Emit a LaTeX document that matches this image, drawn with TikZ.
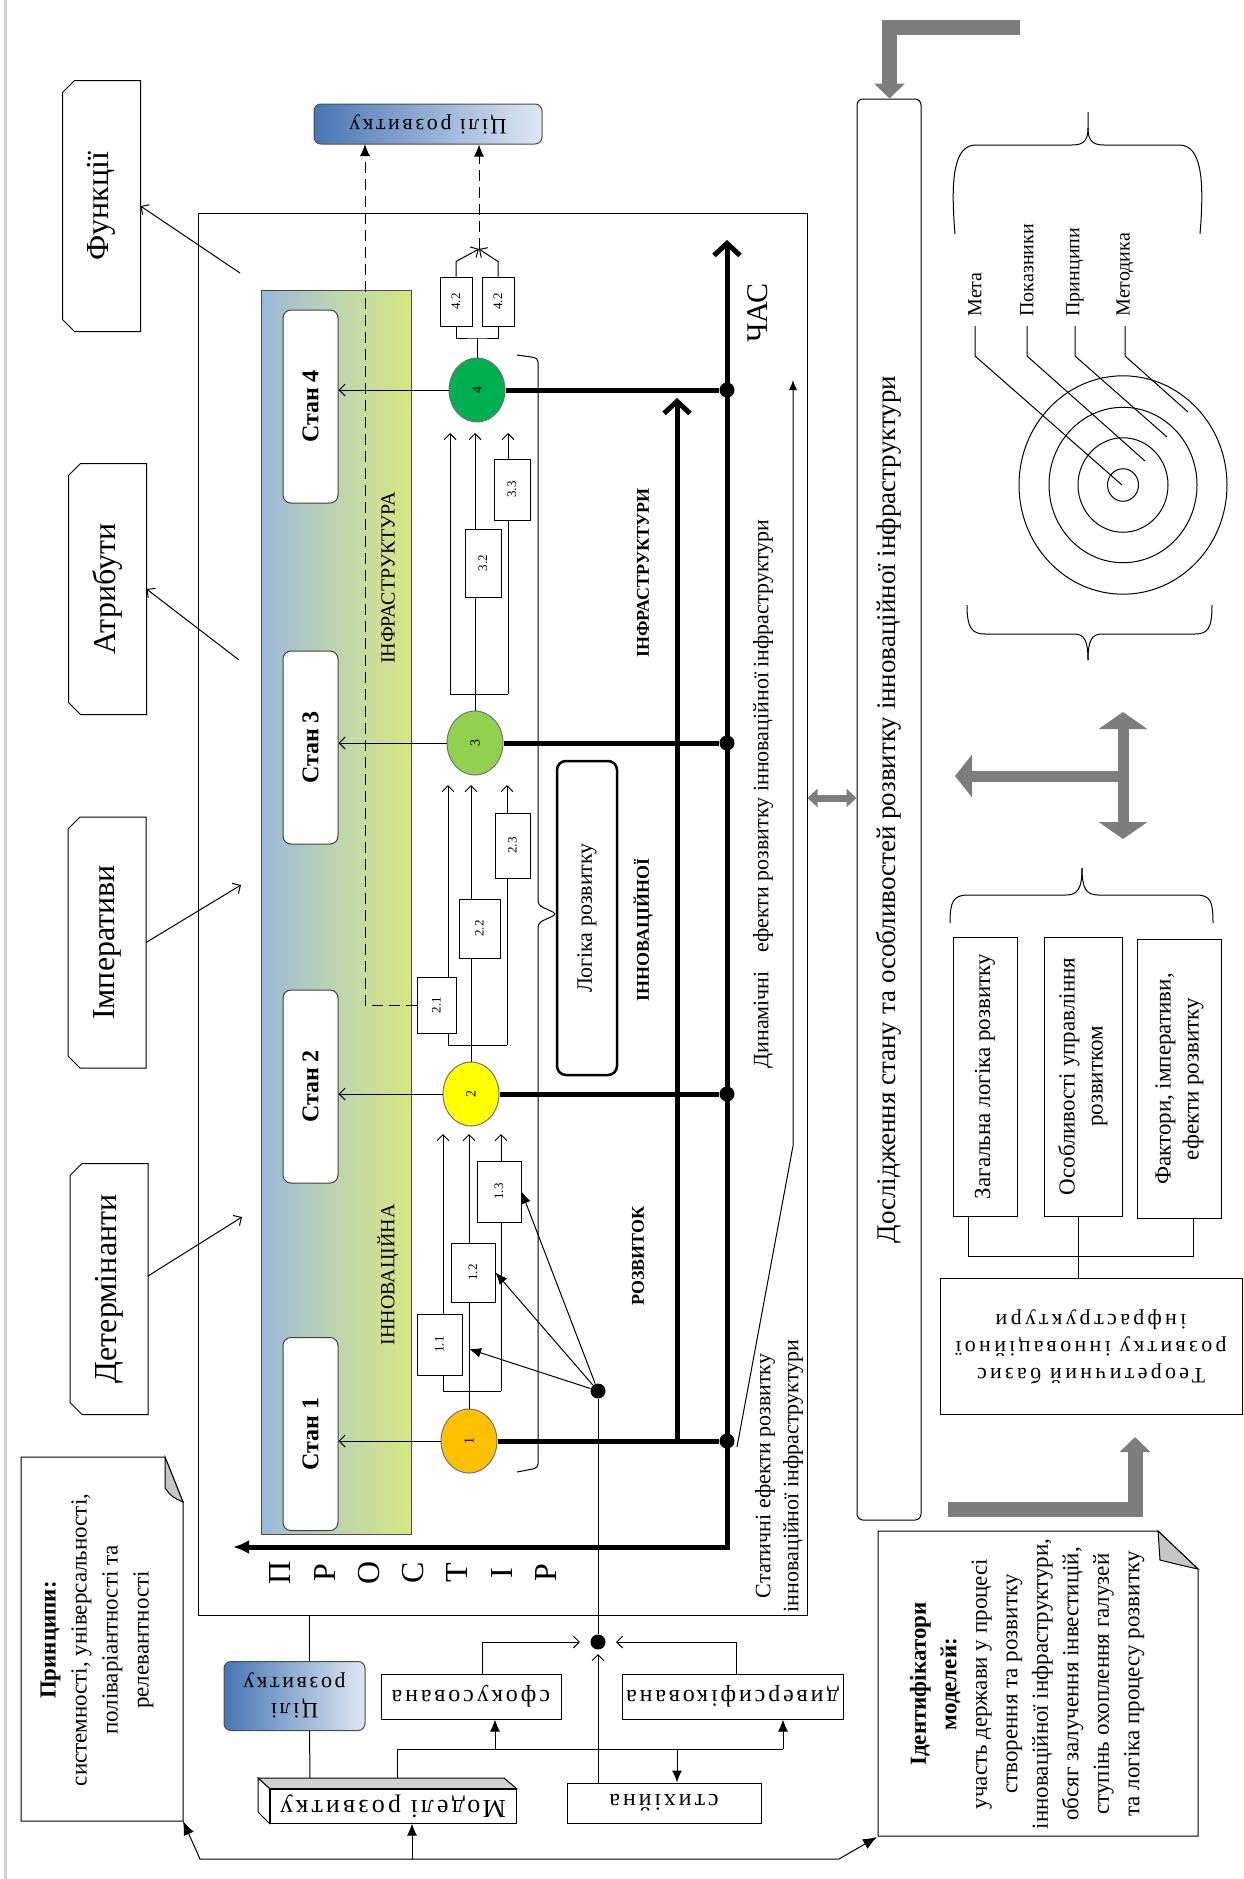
\documentclass[tikz,border=0pt]{standalone}
\usepackage{fontspec}
\setmainfont{Liberation Serif}
\newfontfamily\spc[LetterSpace=12]{Liberation Serif}
\newfontfamily\spct[LetterSpace=15]{Liberation Serif}
\usepackage{graphicx}
\usetikzlibrary{arrows.meta,shapes.geometric}
\definecolor{bandblue}{RGB}{155,184,220}
\definecolor{bandmid}{RGB}{190,213,175}
\definecolor{bandyel}{RGB}{214,230,130}
\definecolor{cilblue}{RGB}{72,118,180}
\definecolor{cillight}{RGB}{222,231,243}
\definecolor{orng}{RGB}{255,192,0}
\definecolor{ylw}{RGB}{255,255,0}
\definecolor{lgrn}{RGB}{146,208,80}
\definecolor{dgrn}{RGB}{0,176,80}
\definecolor{garr}{RGB}{125,125,125}
\newcommand{\vup}[1]{\rotatebox{90}{#1}}
\newcommand{\vdn}[1]{\rotatebox{180}{#1}}
\newcommand{\lines}[1]{\begin{tabular}{@{}c@{}}#1\end{tabular}}
\tikzstyle{side}=[inner sep=0pt, minimum width=77pt, minimum height=250pt, font=\fontsize{32}{36}\selectfont]
\tikzstyle{stan}=[draw=black!75, fill=white, rounded corners=8pt, minimum width=55pt, minimum height=193pt, inner sep=0pt, font=\fontsize{24}{28}\selectfont\bfseries]
\tikzstyle{crc}=[draw=black!55, ellipse, minimum width=56pt, minimum height=64pt, inner sep=0pt, font=\fontsize{14}{16}\selectfont]
\tikzstyle{nb}=[draw, fill=white, inner sep=0pt, font=\fontsize{13}{15}\selectfont]
\tikzstyle{dot}=[circle, fill, inner sep=0pt, minimum size=15pt]
\tikzstyle{thk}=[line width=5pt]
\tikzstyle{dsh}=[dash pattern=on 11pt off 6pt, -{Latex[length=12pt,width=10pt]}]
\tikzstyle{filltip}=[-{Latex[length=12pt,width=10pt]}]
\tikzstyle{cil}=[draw=black!70, rounded corners=7pt, left color=cilblue, right color=cillight, inner sep=0pt, font=\fontsize{22}{26}\selectfont\spc]
\tikzstyle{pbox}=[draw, fill=white, inner sep=0pt, font=\fontsize{24}{28}\selectfont\spc]
\tikzstyle{rbox}=[draw, fill=white, inner sep=0pt, minimum height=279pt, font=\fontsize{23}{28}\selectfont]
\tikzstyle{garrow}=[draw=garr, line width=15pt, line join=miter, -{Triangle[length=15pt,width=30pt]}]
\tikzstyle{gshaft}=[draw=garr, line width=11pt]
\tikzstyle{vlbl}=[rotate=90, inner sep=1pt]

\begin{document}
\begin{tikzpicture}[x=1pt,y=-1pt,line width=1pt,>={Straight Barb[length=6pt,width=12pt]}]
\useasboundingbox (0,0) rectangle (1243,1879);
\draw[gray!35, line width=3pt] (5,0) -- (5,1879);

% left column
\node[side] (fun) at (101.5,206) {\vup{Функції}};
\node[side] (atr) at (107.5,589) {\vup{Атрибути}};
\node[side] (imp) at (107,942.5) {\vup{Імперативи}};
\node[side] (det) at (109,1289) {\vup{Детермінанти}};
\foreach \n in {fun,atr,imp,det}
  \draw ([xshift=12pt]\n.north west) -- (\n.north east) -- (\n.south east) -- ([xshift=12pt]\n.south west) -- ([yshift=12pt]\n.south west) -- ([yshift=-12pt]\n.north west) -- cycle;

\draw[fill=white] (21,1457) -- (165,1457) -- (183,1502) -- (183,1821) -- (21,1821) -- cycle;
\draw[fill=gray!45] (165,1457) -- (183,1502) .. controls (172,1497) .. (165,1488) -- cycle;
\node[vlbl, align=center, font=\fontsize{23}{31}\selectfont] (prin) at (97,1640) {\textbf{Принципи:}\\системності, універсальності,\\поліваріантності та\\релевантності};

% main frame
\node[draw, minimum width=609pt, minimum height=1402pt, inner sep=0pt] (frame) at (502.5,914) {};
\node[draw=black!70, left color=bandblue, right color=bandyel, middle color=bandmid, minimum width=150pt, minimum height=1244pt, inner sep=0pt] (band) at (336,912) {};
\node[vlbl, font=\fontsize{20}{24}\selectfont] (binfr) at (388,578) {ІНФРАСТРУКТУРА};
\node[vlbl, font=\fontsize{20}{24}\selectfont] (binn) at (388,1275) {ІННОВАЦІЙНА};

\coordinate (fa) at (240,273);
\coordinate (aa) at (239,660);
\coordinate (ia) at (241,885);
\coordinate (da0) at (242,1217);
\draw[->] (fa) -- (fun.east);
\draw[->] (aa) -- (atr.east);
\draw[->] (imp.east) -- (ia);
\draw[->] ([yshift=13pt]det.east) -- (da0);

\foreach \i/\y in {4/406.5,3/747.5,2/1086.5,1/1434}
  \node[stan] (st\i) at (310.5,\y) {\vup{Стан \i}};

% time and space axes
\coordinate (org) at (727,1547);
\coordinate (tend) at (727,240);
\coordinate (send) at (233,1547);
\draw[thk, {Latex[length=16pt,width=14pt]}-{Straight Barb[length=12pt,width=26pt]}] (send) -- (org) -- (tend);
\coordinate (j1) at (677,1441);
\coordinate (j4) at (677,398);
\draw[thk, -{Straight Barb[length=12pt,width=26pt]}] (j1) -- (j4);
\node[vlbl, font=\fontsize{30}{34}\selectfont] (chas) at (758,313) {ЧАС};
\foreach \l [count=\i] in {П,Р,О,С,Т,І,Р}
  \node[vlbl, font=\fontsize{32}{36}\selectfont] (pr\i) at (236+44.3*\i,1573) {\l};

% states
\node[crc, fill=dgrn] (c4) at (477,390) {\vup{4}};
\node[crc, fill=lgrn] (c3) at (475,743) {\vup{3}};
\node[crc, fill=ylw] (c2) at (471,1094) {\vup{2}};
\node[crc, fill=orng] (c1) at (469,1441) {\vup{1}};
\foreach \i in {1,...,4}
  \draw[->] (c\i.west) -- (c\i.west -| st\i.east);
\foreach \i/\y in {1/1441,2/1094,3/743,4/390}
  \node[dot] (d\i) at (727,\y) {};
\foreach \i in {1,...,4}
  \draw[thk] (c\i) -- (d\i);

\foreach \k/\y/\l/\r/\t in {1/1391/443/501/1134, 2/1045/448/507/785, 3/694/450/508/433}{
  \coordinate (bl\k) at (\l,\y);
  \coordinate (br\k) at (\r,\y);
  \coordinate (tl\k) at (\l,\t);
  \coordinate (tr\k) at (\r,\t);
  \draw (bl\k) -- (br\k);
  \draw[->] (bl\k) -- (tl\k);
  \draw[->] (br\k) -- (tr\k);
  \draw[->] (c\k.north) -- (c\k.north |- tl\k);
}
\foreach \n/\t/\x/\y/\w/\h in {11/1.1/439.5/1344.5/45/61, 12/1.2/473/1272.5/44/59, 13/1.3/499/1191.5/44/61,
    21/2.1/436.5/1005/39/56, 22/2.2/479.5/928.5/41/59, 23/2.3/512.5/845.5/35/65,
    32/3.2/483/563/36/68, 33/3.3/512/489.5/36/61}
  \node[nb, minimum width=\w pt, minimum height=\h pt] (b\n) at (\x,\y) {\vup{\t}};
\node[nb, minimum width=32pt, minimum height=49pt] (b42a) at (456,301.5) {\vup{4.2}};
\node[nb, minimum width=32pt, minimum height=49pt] (b42b) at (498,301.5) {\vup{4.2}};
\coordinate (j42) at (477,338);
\draw (c4.north) -- (j42);
\draw (b42a.south) |- (j42) -| (b42b.south);
\coordinate (m42) at (479,249);
\draw[->] (b42a.north) -- ++(0,-15) -- (m42);
\draw[->] (b42b.north) -- ++(0,-15) -- (m42);

\node[cil, minimum width=228pt, minimum height=40pt] (cil1) at (428,124) {\vdn{Цілі розвитку}};
\draw[dsh] (m42) -- (m42 |- cil1.south);
\coordinate (dtop) at (365,144);
\draw[dsh] (b21.west) -| (dtop);

% logic bracket
\draw[rounded corners=4pt] (517,355) -- (538,358) -- (538,905) -- (557,914) -- (538,923) -- (538,1468) -- (517,1472);
\node[draw, line width=2.5pt, rounded corners=9pt, minimum width=60pt, minimum height=314pt, inner sep=0pt, font=\fontsize{22}{26}\selectfont] (logic) at (587,918) {\vup{Логіка розвитку}};
\node[vlbl, font=\fontsize{18}{22}\selectfont\bfseries] (linfr) at (643,573) {ІНФРАСТРУКТУРИ};
\node[vlbl, font=\fontsize{18}{22}\selectfont\bfseries] (linn) at (643,930) {ІННОВАЦІЙНОЇ};
\node[vlbl, font=\fontsize{18}{22}\selectfont\bfseries] (lroz) at (638,1256) {РОЗВИТОК};

% effects
\coordinate (dy0) at (737,1447);
\coordinate (dy1) at (793,1146);
\coordinate (dy2) at (793,380);
\draw[-{Latex[length=10pt,width=8pt]}] (dy0) -- (dy1) -- (dy2);
\node[vlbl, font=\fontsize{22}{26}\selectfont] (dyn) at (763,794) {Динамічні\hspace{0.6em} ефекти розвитку інноваційної інфраструктури};
\node[vlbl, align=center, font=\fontsize{22}{28}\selectfont] (stat) at (779,1476) {Статичні ефекти розвитку\\інноваційної інфраструктури};

% model selection
\node[dot] (da) at (598,1391) {};
\node[dot] (db) at (598,1642) {};
\draw (db) -- (da);
\coordinate (pm) at (469,1349);
\draw[filltip] (da) -- (b13.east);
\draw[filltip] (da) -- (b12.east);
\draw[filltip] (da) -- (pm);

\node[cil, minimum width=141pt, minimum height=69pt] (cil2) at (294.5,1696) {\vdn{\lines{Цілі\\розвитку}}};
\draw ([xshift=15pt]cil2.north) -- ([xshift=15pt]cil2.north |- frame.south);
\coordinate (mt0) at (310,1778);
\draw ([xshift=15pt]cil2.south) -- (mt0);

\node[draw, fill=white, minimum width=246pt, minimum height=34pt, inner sep=0pt, font=\fontsize{26}{30}\selectfont\spc] (model) at (393,1806) {\vdn{Моделі розвитку}};
\draw[fill=gray!35] (258,1778) -- (504,1778) -- (model.north east) -- (model.north west) -- cycle;
\draw[fill=white] (258,1778) -- (model.north west) -- (model.south west) -- (258,1812) -- cycle;

\node[pbox, minimum width=180pt, minimum height=45pt] (sfok) at (471,1696.5) {\vdn{сфокусована}};
\node[pbox, minimum width=221pt, minimum height=45pt] (diver) at (732.5,1696.5) {\vdn{диверсифікована}};
\node[pbox, minimum width=194pt, minimum height=40pt] (stykh) at (664,1803) {\vdn{стихійна}};

\coordinate (mt) at (397,1778);
\coordinate (mj) at (397,1749);
\coordinate (mr) at (783,1749);
\coordinate (ms) at (495,1749);
\coordinate (mk) at (677,1749);
\draw (mt) -- (mj) -- (mr);
\draw[filltip] (mr) -- (mr |- diver.south);
\draw[filltip] (ms) -- (ms |- sfok.south);
\draw[filltip] (mk) -- (mk |- stykh.north);
\draw[->, shorten >=10pt] ([xshift=11pt]sfok.north) |- (db);
\draw[->, shorten >=10pt] ([xshift=3.5pt]diver.north) |- (db);
\draw[->, shorten >=4pt] (stykh.north -| db) -- (db);

\coordinate (bl) at (200,1859);
\coordinate (br) at (839,1859);
\coordinate (bm) at (412,1859);
\coordinate (pc) at (183,1821);
\coordinate (ic) at (877,1837);
\draw[{Latex[length=14pt,width=11pt]}-{Latex[length=14pt,width=11pt]}] (pc) -- (bl) -- (br) -- (ic);
\draw[filltip] (bm) -- (bm |- model.south);

% right column
\node[draw, rounded corners=6pt, minimum width=64pt, minimum height=1421pt, inner sep=0pt, font=\fontsize{27}{31}\selectfont] (dosl) at (889,809.5) {\vup{Дослідження стану та особливостей розвитку інноваційної інфраструктури}};
\coordinate (dd) at (0,798);
\draw[draw=garr, line width=7pt, {Triangle[length=10pt,width=18pt]}-{Triangle[length=10pt,width=18pt]}] (frame.east |- dd) -- (dosl.west |- dd);
\coordinate (ga1) at (1020,27);
\draw[garrow] (ga1) -| ([xshift=33pt]dosl.north west);

\draw (955,234) .. controls (950,175) and (955,146) .. (975,145) -- (1072,145) .. controls (1084,145) and (1088,140) .. (1088,128) -- (1088,112);
\draw (1088,128) .. controls (1088,140) and (1092,145) .. (1104,145) -- (1180,145) .. controls (1200,146) and (1205,175) .. (1200,234);

\coordinate (tc) at (1123,485);
\foreach \r in {15.5,45,74,104}
  \draw (tc) ellipse [x radius=\r, y radius=1.05*\r];
\foreach \n/\t/\x/\ex/\ey in {meta/Мета/975/1122/485, pokaz/Показники/1027/1145/461, pryn/Принципи/1075/1167/437, metod/Методика/1125/1188/412}{
  \node[vlbl, anchor=west, font=\fontsize{20}{24}\selectfont] (\n) at (\x,318) {\t};
  \coordinate (e\n) at (\ex,\ey);
  \draw (\n.west) ++(0,8) -- ++(0,30) -- (e\n);
}
\draw (967,605) .. controls (967,628) and (972,634) .. (985,634) -- (1074,634) .. controls (1084,634) and (1088,640) .. (1088,660);
\draw (1088,660) .. controls (1088,640) and (1092,634) .. (1102,634) -- (1195,634) .. controls (1208,634) and (1212,628) .. (1212,605);

\coordinate (tt) at (1123,712);
\coordinate (tb) at (1123,839);
\coordinate (tm) at (1123,776);
\coordinate (tl) at (955,776);
\draw[gshaft, {Triangle[length=17pt,width=48pt]}-{Triangle[length=17pt,width=48pt]}] (tt) -- (tb);
\draw[gshaft, -{Triangle[length=17pt,width=42pt]}] (tm) -- (tl);

\draw (950,923) .. controls (950,902) and (953,895) .. (968,895) -- (1066,895) .. controls (1078,895) and (1082,888) .. (1082,868);
\draw (1082,868) .. controls (1082,888) and (1086,895) .. (1098,895) -- (1196,895) .. controls (1211,895) and (1213,902) .. (1213,923);

\node[rbox, minimum width=64pt] (zag) at (985,1076.5) {\vup{Загальна логіка розвитку}};
\node[rbox, minimum width=78pt] (osob) at (1083,1076.5) {\vup{\lines{Особливості управління\\розвитком}}};
\node[rbox, minimum width=84pt] (fakt) at (1179,1079) {\vup{\lines{Фактори, імперативи,\\ефекти розвитку}}};
\node[draw, minimum width=302pt, minimum height=136pt, inner sep=0pt, font=\fontsize{22}{27}\selectfont\spct] (teor) at (1091,1346.5) {\vdn{\lines{Теоретичний базис\\розвитку інноваційної\\інфраструктури}}};
\coordinate (tb0) at (1078,1256);
\draw ([xshift=-17pt]zag.south) |- (tb0) -| ([xshift=14pt]fakt.south);
\draw ([xshift=-5pt]osob.south) -- ([xshift=-5pt]osob.south |- teor.north);

\coordinate (gb1) at (948,1509);
\coordinate (gb2) at (1135,1437);
\draw[garrow] (gb1) -| (gb2);

\draw[fill=white] (878,1531) -- (1158,1531) -- (1198,1569) -- (1198,1836) -- (878,1836) -- cycle;
\draw[fill=gray!45] (1158,1531) -- (1198,1569) .. controls (1180,1565) .. (1160,1560) -- cycle;
\node[vlbl, align=center, font=\fontsize{23}{30.5}\selectfont] (ident) at (1027,1684) {\textbf{Ідентифікатори}\\\textbf{моделей:}\\участь держави у процесі\\створення та розвитку\\інноваційної інфраструктури,\\обсяг залучення інвестицій,\\ступінь охоплення галузей\\та логіка процесу розвитку};
\end{tikzpicture}
\end{document}
